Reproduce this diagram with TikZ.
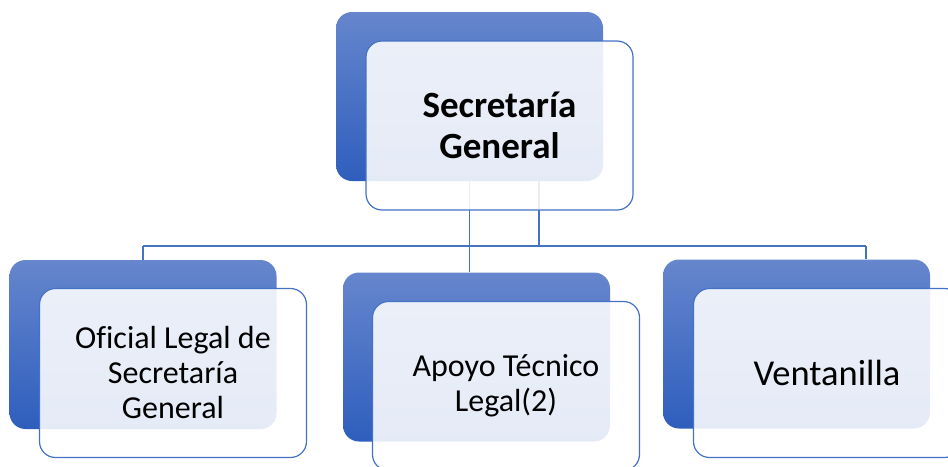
\documentclass[tikz,border=0pt]{standalone}
\usepackage{fontspec}
\setmainfont[Ligatures=NoCommon]{Carlito}
\definecolor{accent}{RGB}{68,114,196}
\definecolor{gradtop}{RGB}{102,134,205}
\definecolor{gradbot}{RGB}{46,94,189}
\begin{document}
\begin{tikzpicture}[x=1pt,y=-1pt,
 backbox/.style={minimum width=267pt,minimum height=169pt,rounded corners=16pt,top color=gradtop,bottom color=gradbot,inner sep=0pt,draw=none},
 frontbox/.style={minimum width=267pt,minimum height=169pt,rounded corners=16pt,draw=accent,line width=1.2pt,fill=white,fill opacity=0.88,draw opacity=1,text opacity=1,align=center,inner sep=0pt,text=black,font=\fontsize{32}{35}\selectfont},
 link/.style={draw=accent,line width=1.3pt}]
\useasboundingbox (0,0) rectangle (948,466);
\clip (0,0) rectangle (948,466);
% back boxes
\node[backbox] (topB) at (469.5,96.5) {};
\node[backbox] (leftB) at (143,344.5) {};
\node[backbox] (midB) at (476.5,357) {};
\node[backbox] (rightB) at (796.5,344) {};
% connectors
\coordinate (busL) at (143,246);
\coordinate (busR) at (866,246);
\coordinate (tap) at (539,246);
\draw[link] (busL) -- (busR);
\draw[link] (busL) -- (leftB.north);
\draw[link] (busR) -- (busR |- rightB.north);
\draw[link] (topB.south) -- (topB.south |- midB.north);
\draw[link] (tap |- topB.south) -- (tap);
% front boxes
\node[frontbox,font=\fontsize{37}{41}\selectfont\bfseries] (topF) at (499.5,125.5) {Secretaría\\General};
\node[frontbox] (leftF) at (173,373) {Oficial Legal de\\Secretaría\\General};
\node[frontbox] (midF) at (506,386) {Apoyo Técnico\\Legal(2)};
\node[frontbox,font=\fontsize{36.5}{40}\selectfont] (rightF) at (827,373) {Ventanilla};
\end{tikzpicture}
\end{document}
